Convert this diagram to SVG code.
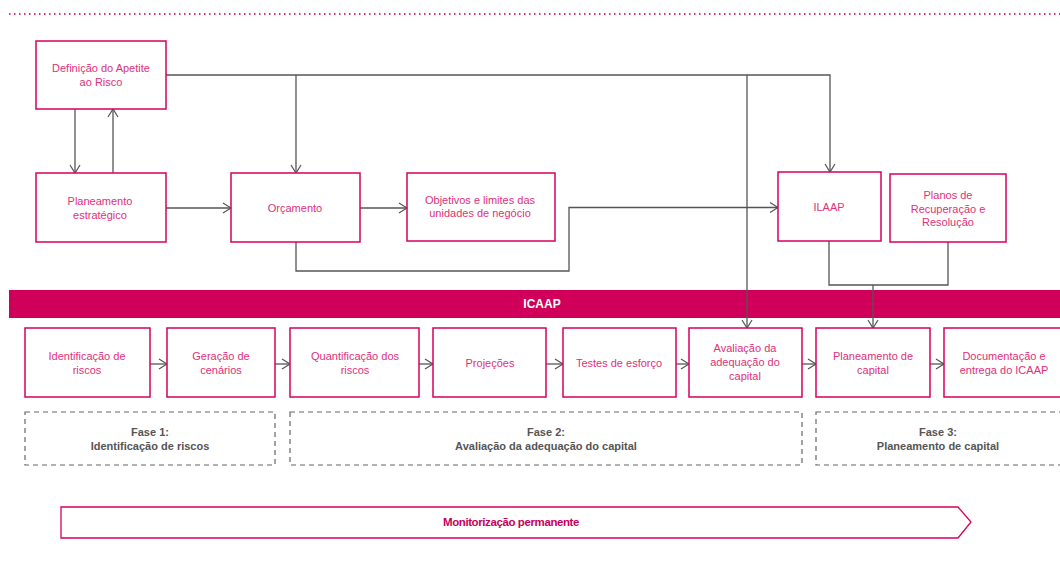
<svg xmlns="http://www.w3.org/2000/svg" width="1060" height="566" viewBox="0 0 1060 566">
<defs>
<marker id="arr" markerWidth="12" markerHeight="12" refX="10" refY="6" orient="auto" markerUnits="userSpaceOnUse">
<path d="M2,1 L10,6 L2,11" fill="none" stroke="#555" stroke-width="1.2"/>
</marker>
<style>
.box{fill:#fff;stroke:#D6005F;stroke-width:1.5}
.t{font-family:"Liberation Sans",Arial,sans-serif;font-size:11px;fill:#E0307A;text-anchor:middle}
.c{fill:none;stroke:#555;stroke-width:1.3}
.ph{fill:none;stroke:#666;stroke-width:1.2;stroke-dasharray:5,4}
.pt{font-family:"Liberation Sans",Arial,sans-serif;font-size:11px;font-weight:bold;fill:#555;text-anchor:middle}
</style>
</defs>
<rect width="1060" height="566" fill="#fff"/>
<line x1="9" y1="14" x2="1060" y2="14" stroke="#E0307A" stroke-width="2.2" stroke-dasharray="1.5,3.5"/>

<g id="icaap"><rect x="9" y="290" width="1051" height="28" fill="#D0005A"/>
<text x="542" y="308" font-family="Liberation Sans, Arial, sans-serif" font-size="12" font-weight="bold" fill="#fff" text-anchor="middle">ICAAP</text></g>

<g id="connectors">
<path class="c" d="M166,75 H830 V172" marker-end="url(#arr)"/>
<path class="c" d="M296,75 V173" marker-end="url(#arr)"/>
<path class="c" d="M747,75 V328" marker-end="url(#arr)"/>
<path class="c" d="M75,109 V173" marker-end="url(#arr)"/>
<path class="c" d="M113,173 V109" marker-end="url(#arr)"/>
<path class="c" d="M166,208 H231" marker-end="url(#arr)"/>
<path class="c" d="M360,208 H407" marker-end="url(#arr)"/>
<path class="c" d="M296,242 V271 H569 V207.5 H778" marker-end="url(#arr)"/>
<path class="c" d="M829,241 V285 H948 V242"/>
<path class="c" d="M873,285 V328" marker-end="url(#arr)"/>
<path class="c" d="M150,364 H167" marker-end="url(#arr)"/>
<path class="c" d="M275,364 H290" marker-end="url(#arr)"/>
<path class="c" d="M419,364 H433" marker-end="url(#arr)"/>
<path class="c" d="M546,364 H563" marker-end="url(#arr)"/>
<path class="c" d="M676,364 H689" marker-end="url(#arr)"/>
<path class="c" d="M802,364 H816" marker-end="url(#arr)"/>
<path class="c" d="M930,364 H944" marker-end="url(#arr)"/>
</g>

<g id="apetite"><rect class="box" x="36" y="41" width="130" height="68"/>
<text class="t" x="101" y="72">Definição do Apetite</text><text class="t" x="101" y="86">ao Risco</text></g>
<g id="planeamento-estrategico"><rect class="box" x="36" y="173" width="130" height="69"/>
<text class="t" x="100" y="205">Planeamento</text><text class="t" x="100" y="219">estratégico</text></g>
<g id="orcamento"><rect class="box" x="231" y="173" width="129" height="69"/>
<text class="t" x="295" y="212">Orçamento</text></g>
<g id="objetivos"><rect class="box" x="407" y="173" width="148" height="68"/>
<text class="t" x="480" y="204">Objetivos e limites das</text><text class="t" x="480" y="217">unidades de negócio</text></g>
<g id="ilaap"><rect class="box" x="778" y="172" width="103" height="69"/>
<text class="t" x="829" y="211">ILAAP</text></g>
<g id="planos"><rect class="box" x="890" y="174" width="116" height="68"/>
<text class="t" x="948" y="199">Planos de</text><text class="t" x="948" y="213">Recuperação e</text><text class="t" x="948" y="226">Resolução</text></g>

<g id="identificacao"><rect class="box" x="25" y="328" width="125" height="69"/>
<text class="t" x="87" y="360">Identificação de</text><text class="t" x="87" y="374">riscos</text></g>
<g id="geracao"><rect class="box" x="167" y="328" width="108" height="69"/>
<text class="t" x="221" y="360">Geração de</text><text class="t" x="221" y="374">cenários</text></g>
<g id="quantificacao"><rect class="box" x="290" y="328" width="129" height="69"/>
<text class="t" x="355" y="360">Quantificação dos</text><text class="t" x="355" y="374">riscos</text></g>
<g id="projecoes"><rect class="box" x="433" y="328" width="113" height="69"/>
<text class="t" x="490" y="367">Projeções</text></g>
<g id="testes"><rect class="box" x="563" y="328" width="113" height="69"/>
<text class="t" x="619" y="367">Testes de esforço</text></g>
<g id="avaliacao"><rect class="box" x="689" y="328" width="113" height="69"/>
<text class="t" x="745" y="352">Avaliação da</text><text class="t" x="745" y="366">adequação do</text><text class="t" x="745" y="380">capital</text></g>
<g id="planeamento-capital"><rect class="box" x="816" y="328" width="114" height="69"/>
<text class="t" x="873" y="360">Planeamento de</text><text class="t" x="873" y="374">capital</text></g>
<g id="documentacao"><rect class="box" x="944" y="328" width="120" height="69"/>
<text class="t" x="1004" y="360">Documentação e</text><text class="t" x="1004" y="374">entrega do ICAAP</text></g>

<g id="fase1"><rect class="ph" x="25" y="412" width="250" height="53"/>
<text class="pt" x="150" y="436">Fase 1:</text><text class="pt" x="150" y="450">Identificação de riscos</text></g>
<g id="fase2"><rect class="ph" x="290" y="412" width="512" height="53"/>
<text class="pt" x="546" y="436">Fase 2:</text><text class="pt" x="546" y="450">Avaliação da adequação do capital</text></g>
<g id="fase3"><rect class="ph" x="816" y="412" width="250" height="53"/>
<text class="pt" x="938" y="436">Fase 3:</text><text class="pt" x="938" y="450">Planeamento de capital</text></g>

<g id="monitorizacao"><path d="M61,507 H958 L971,522 L958,538 H61 Z" fill="#fff" stroke="#D6005F" stroke-width="1.3"/>
<text x="511" y="526" font-family="Liberation Sans, Arial, sans-serif" font-size="11.5" font-weight="bold" fill="#C8005A" text-anchor="middle" letter-spacing="-0.4">Monitorização permanente</text></g>
</svg>
